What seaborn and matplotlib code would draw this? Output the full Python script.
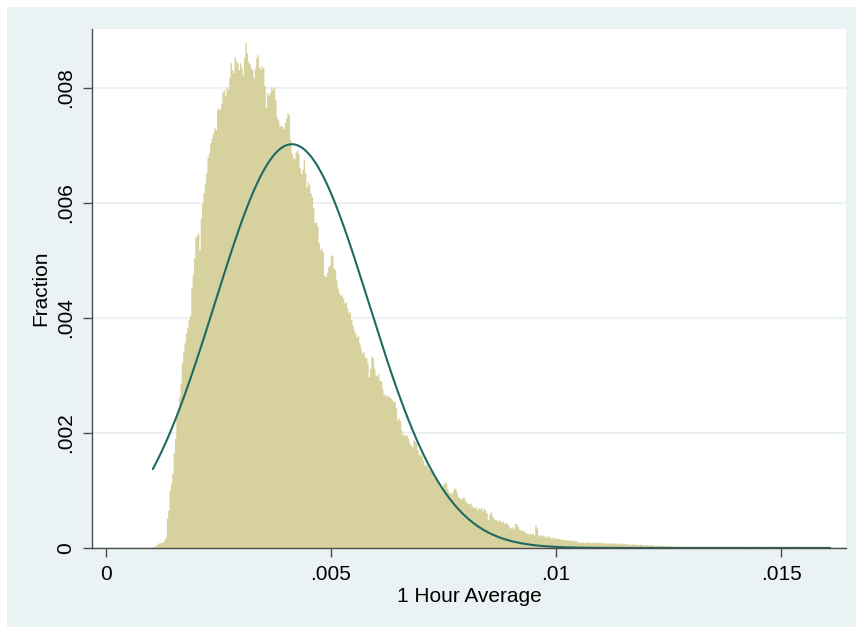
"""
1 Hour Average histogram (fraction) with normal density overlay, Stata look
"""

import numpy as np
import pandas as pd
import matplotlib
matplotlib.use('Agg')
import matplotlib.pyplot as plt
from matplotlib.patches import Rectangle
import seaborn as sns

# histogram: 500 bins, heights as fraction of observations (in units of 1e-5)
bin_start = 0.00104
bin_width = 0.0000301
frac_1e5 = [
    3, 3, 5, 7, 9, 9, 10, 10, 14, 19,
    52, 66, 101, 113, 130, 165, 191, 235, 244, 263, 287, 322, 341, 357, 374, 384, 397, 405, 452, 475, 505,
    541, 544, 548, 518, 574, 600, 618, 635, 653, 680, 687, 705, 713, 722, 731,
    727, 762, 766, 762, 774, 793, 797, 787, 802, 797, 818, 844, 832, 827, 854,
    847, 844, 832, 844, 835, 823, 853, 879, 861, 846,
    842, 835, 832, 818, 835, 853, 858, 837, 832, 839,
    835, 804, 766, 792, 788, 792, 802, 797, 802, 780,
    750, 745, 733, 736, 733, 729, 740, 748, 757, 753,
    710, 687, 680, 677, 689, 693, 686, 661, 651, 658,
    675, 653, 628, 637, 632, 618, 611, 592, 566, 567,
    560, 531, 519, 522, 515, 475, 472, 479, 489, 492,
    510, 508, 487, 484, 466, 452, 444, 440, 440, 435,
    426, 428, 418, 409, 411, 397, 388, 379, 374, 367,
    369, 357, 348, 339, 341, 332, 331, 322, 298, 313,
    334, 331, 313, 301, 299, 303, 292, 291, 278, 266,
    268, 264, 266, 263, 261, 258, 254, 256, 244, 223,
    226, 221, 205, 197, 198, 195, 197, 191, 183, 179,
    176, 188, 186, 183, 171, 162, 164, 160, 153, 144,
    146, 143, 137, 136, 134, 129, 122, 124, 120, 115,
    108, 106, 104, 111, 115, 113, 104, 97, 96, 94,
    99, 104, 103, 96, 89, 87, 85, 87, 89, 84,
    80, 78, 77, 78, 73, 71, 70, 71, 66, 70,
    68, 70, 64, 70, 66, 61, 49, 59, 63, 57,
    52, 49, 50, 47, 49, 47, 45, 47, 43, 45,
    42, 40, 35, 35, 37, 33, 43, 42, 38, 33,
    31, 30, 31, 28, 26, 26, 24, 26, 24, 26,
    23, 40, 35, 23, 21, 23, 21, 23, 19, 21,
    19, 21, 17, 19, 17, 19, 17, 16, 17, 16,
    15, 16, 14, 15, 14, 14, 13, 14, 13, 14, 12, 13,
    10, 11, 10, 10, 11, 9, 10, 10, 11, 9, 10, 10, 9, 10, 11, 9, 10, 9, 10, 9, 9,
    9, 8, 9, 9, 8, 9, 8, 9, 8, 7, 9, 8, 8, 9, 8, 7,
    7, 7, 6, 7, 7, 6, 7, 6, 6, 7, 6, 6, 5, 6, 6,
    5, 5, 6, 5, 5, 4, 5, 5, 4, 5, 4, 5, 4, 4, 5,
    4, 3, 4, 3, 3, 4, 3, 4, 3, 3, 4, 3, 3, 3, 4, 3, 3, 4, 3, 3,
    3, 3, 4, 3, 3, 3, 4, 3, 3, 3, 3, 4, 3, 3, 3, 3, 3, 3, 4, 3,
    3, 3, 3, 3, 3, 4, 3, 3, 3, 3, 3, 3, 4, 3, 3, 3, 3, 3, 3, 3,
    3, 3, 3, 4, 3, 3, 3, 3, 3, 3, 3, 2, 3, 3, 3, 3, 4, 3, 3, 3,
    3, 3, 3, 3, 2, 3, 3, 3, 3, 3, 3, 3, 3, 4, 3, 3, 3, 3, 2, 3,
    3, 3, 3, 3, 3, 3, 2, 3, 3, 3, 3, 3, 3, 3, 3, 2, 3, 3, 3, 3,
]

# normal density overlay (scaled to bin width, like Stata's "normal" option)
norm_mean = 0.00413
norm_sd = 0.00171

x_ticks = [0, 0.005, 0.01, 0.015]
x_tick_labels = ['0', '.005', '.01', '.015']
y_ticks = [0, 0.002, 0.004, 0.006, 0.008]
y_tick_labels = ['0', '.002', '.004', '.006', '.008']

BG = '#EAF2F3'
BAR = '#D7D19E'
LINE = '#1E6A62'
AXC = '#4d4d4d'
FS = 15

sns.set_theme(style='white')
plt.rcParams['font.family'] = ['Liberation Sans', 'DejaVu Sans']

edges = bin_start + bin_width * np.arange(len(frac_1e5) + 1)
df = pd.DataFrame({
    'center': (edges[:-1] + edges[1:]) / 2,
    'fraction': np.array(frac_1e5) * 1e-5,
})

W, H = 856, 627
fig = plt.figure(figsize=(W / 100, H / 100), dpi=100, facecolor='white')
fig.patches.append(Rectangle((7 / W, 0), 1 - 7 / W, 1 - 7 / H,
                             transform=fig.transFigure, facecolor=BG,
                             edgecolor='none', zorder=-10))
ax = fig.add_axes([92 / W, 1 - 548 / H, (846 - 92) / W, (548 - 29) / H])
ax.set_facecolor('white')
ax.set_axisbelow(True)

sns.histplot(data=df, x='center', weights='fraction', bins=edges.tolist(),
             element='step', fill=True, color=BAR, alpha=1, linewidth=0, ax=ax)

xs = np.linspace(edges[0], edges[-1], 600)
ys = bin_width * np.exp(-0.5 * ((xs - norm_mean) / norm_sd) ** 2) / (norm_sd * np.sqrt(2 * np.pi))
sns.lineplot(x=xs, y=ys, color=LINE, linewidth=1.5, ax=ax)

ax.set_xlim(-0.000311, 0.016444)
ax.set_ylim(0, 0.009026)
ax.set_xticks(x_ticks)
ax.set_xticklabels(x_tick_labels)
ax.set_yticks(y_ticks)
ax.set_yticklabels(y_tick_labels, rotation=90, va='center')

ax.yaxis.grid(True, color=BG, linewidth=1.5)
ax.xaxis.grid(False)
for side in ['top', 'right']:
    ax.spines[side].set_visible(False)
for side in ['left', 'bottom']:
    ax.spines[side].set_color(AXC)
    ax.spines[side].set_linewidth(1)

ax.tick_params(axis='both', direction='out', length=6.5, width=1, color=AXC,
               labelsize=FS, labelcolor='black', pad=6,
               left=True, bottom=True)

ax.set_xlabel('1 Hour Average', fontsize=FS, labelpad=2, color='black')
ax.set_ylabel('Fraction', fontsize=FS, labelpad=4, color='black')

fig.savefig('out.png', dpi=100)
plt.close(fig)
